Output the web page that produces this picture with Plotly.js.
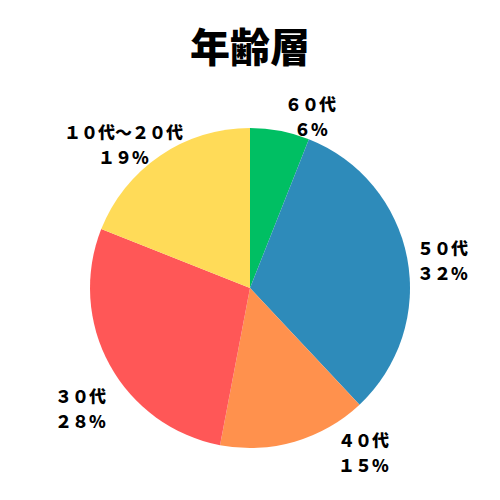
<!DOCTYPE html>
<html>
<head>
<meta charset="utf-8">
<script src="https://cdn.plot.ly/plotly-3.0.1.min.js"></script>
<style>
  html, body { margin: 0; padding: 0; background: #fff; }
  #chart { width: 500px; height: 500px; }
</style>
</head>
<body>
<div id="chart"></div>
<script>
// 年齢層の内訳 (時計回り、12時から)
const ageLabels = ['６０代', '５０代', '４０代', '３０代', '１０代〜２０代'];
const shareText = ['６%', '３２%', '１５%', '２８%', '１９%'];
const shareValues = [6, 32, 15, 28, 19];
const sliceColors = ['#00BF63', '#2E8BBA', '#FF914D', '#FF5757', '#FFDB58'];

// label placement: nudge (deg) from slice middle, distance from centre (px)
const labelNudge = [8.7, 2.5, -18.4, -6.4, -7.2];
const labelDist = [182, 195, 199, 208, 192];

const W = 500, H = 500;
const pieDomain = { x: [0.18, 0.82], y: [0.104, 0.744] };
const cx = (pieDomain.x[0] + pieDomain.x[1]) / 2;
const cy = (pieDomain.y[0] + pieDomain.y[1]) / 2;

const trace = {
    type: 'pie',
    labels: ageLabels,
    values: shareValues,
    sort: false,
    direction: 'clockwise',
    rotation: 0,
    marker: { colors: sliceColors, line: { width: 0 } },
    textinfo: 'none',
    hoverinfo: 'none',
    domain: pieDomain,
    automargin: false
};

// two-line outside labels, angle taken from the cumulative share
const labelFont = { family: 'Noto Sans CJK JP', size: 17, color: '#000', weight: 900 };
const total = shareValues.reduce((a, b) => a + b, 0);
const annotations = [];
let acc = 0;
shareValues.forEach((v, i) => {
    const mid = (acc + v / 2) / total * 360 + labelNudge[i];
    acc += v;
    const rad = mid * Math.PI / 180;
    const x = cx + labelDist[i] * Math.sin(rad) / W;
    const y = cy + labelDist[i] * Math.cos(rad) / H;
    [ageLabels[i], shareText[i]].forEach((t, k) => {
        annotations.push({
            xref: 'paper', yref: 'paper',
            x: x, y: y + (k === 0 ? 12.5 : -12.5) / H,
            xanchor: 'center', yanchor: 'middle',
            text: t, showarrow: false, font: labelFont
        });
    });
});

const layout = {
    width: W,
    height: H,
    showlegend: false,
    paper_bgcolor: '#fff',
    margin: { t: 0, b: 0, l: 0, r: 0 },
    title: {
        text: '年齢層',
        font: { family: 'Noto Sans CJK JP', size: 40, color: '#000', weight: 900 },
        x: 0.5,
        xanchor: 'center',
        y: 0.905,
        yanchor: 'middle'
    },
    annotations: annotations
};

Plotly.newPlot('chart', [trace], layout, { displayModeBar: false, staticPlot: true });
</script>
</body>
</html>
